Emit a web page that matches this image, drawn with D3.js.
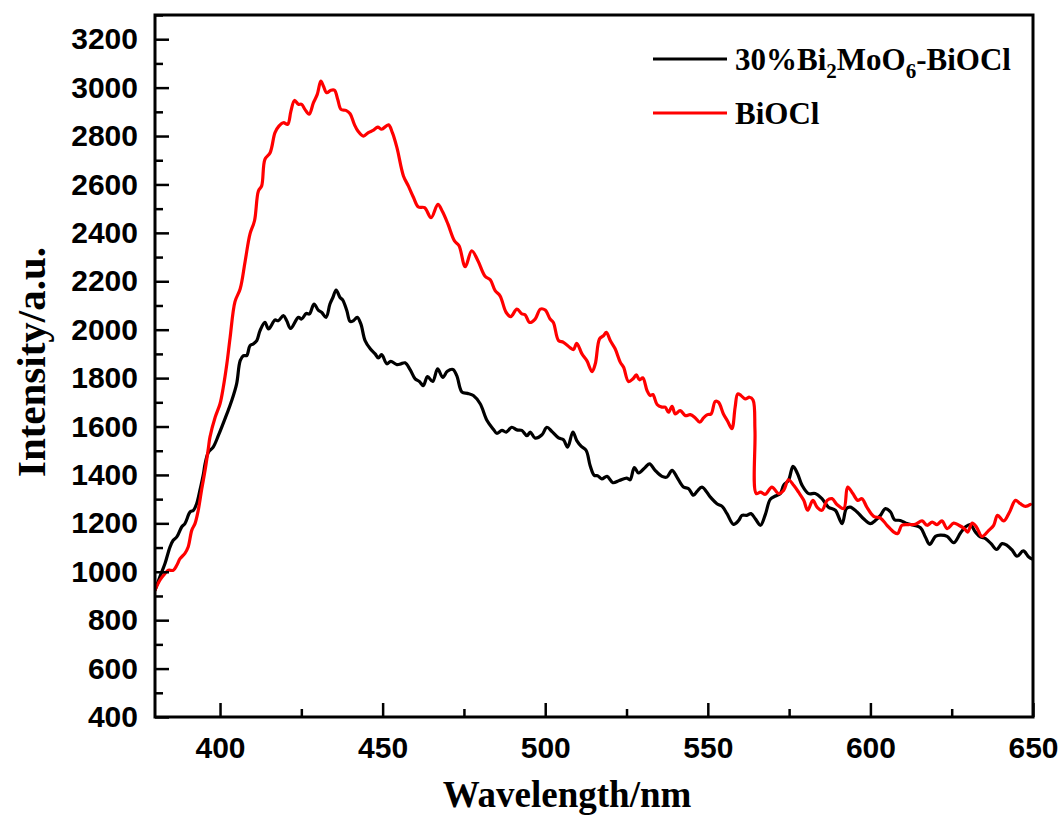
<!DOCTYPE html>
<html>
<head>
<meta charset="utf-8">
<script src="https://cdn.jsdelivr.net/npm/d3@7"></script>
<style>
  html, body { margin: 0; padding: 0; background: #fff; }
  svg { display: block; }
</style>
</head>
<body>
<svg id="chart" width="1064" height="823"></svg>
<script>
// ---------------- DATA ----------------
// 30%Bi2MoO6-BiOCl (black)
const blackWavelength = [380,381.5,383.1,384.6,385.6,386.7,388.2,389.2,390.8,391.8,392.8,393.8,394.9,395.4,396.4,397.9,399.5,402.1,403.6,405.1,406.2,407.2,408.2,409.2,410.2,411.3,412.3,413.8,414.9,416.9,417.9,419.5,420.5,421.7,424.1,425.1,426.5,427.5,428.9,430.2,431.3,432.6,433.8,434.7,435.7,436.9,437.7,439.0,440.0,441.0,442.2,443.3,444.6,446.2,447.7,448.7,449.7,451.3,452.5,454.4,455.6,456.9,458.5,460.0,461.3,462.5,463.8,465.4,466.9,468.5,469.9,471.6,472.8,474.4,476.1,477.9,480.0,482.1,484.1,485.1,486.7,488.0,489.7,491.3,492.8,494.4,495.4,496.9,499.0,500.5,502.1,504.1,505.6,506.9,508.5,509.7,511.1,512.6,513.8,515.1,516.1,517.4,519.0,520.8,522.8,525.1,526.1,527.4,528.7,530.8,532.1,533.8,535.9,537.4,539.0,540.5,542.5,544.1,545.6,546.7,548.2,550.8,552.8,554.4,555.9,557.9,559.5,560.5,562.0,563.3,564.6,566.2,567.7,569.2,570.8,572.3,573.3,574.8,576.2,577.6,579.0,581.0,583.0,585.1,587.1,589.2,591.3,592.6,593.8,595.9,597.9,600.0,601.5,603.1,604.6,606.2,607.4,609.2,611.3,613.3,615.4,616.9,618.2,620.0,621.5,623.6,625.6,627.7,629.2,630.7,632.3,633.8,635.4,637.1,638.8,640.5,642.0,643.6,645.1,647.0,648.7,649.8];
const blackIntensity = [924,979,1035,1102,1130,1144,1185,1199,1247,1254,1281,1336,1405,1446,1493,1515,1563,1652,1707,1776,1872,1893,1893,1934,1941,1955,1996,2030,2003,2040,2037,2058,2037,2005,2051,2044,2067,2065,2106,2081,2071,2051,2106,2133,2164,2133,2123,2078,2034,2037,2051,2024,1955,1921,1900,1883,1897,1859,1869,1856,1859,1863,1834,1797,1786,1769,1806,1786,1838,1803,1828,1836,1810,1742,1737,1728,1694,1625,1588,1572,1584,1577,1597,1586,1584,1562,1577,1552,1566,1597,1579,1553,1545,1515,1577,1542,1518,1501,1439,1398,1397,1384,1394,1368,1377,1387,1380,1430,1408,1432,1446,1419,1394,1391,1419,1391,1350,1343,1316,1332,1350,1308,1281,1270,1240,1196,1212,1233,1233,1240,1219,1192,1237,1299,1313,1323,1357,1377,1435,1405,1357,1323,1323,1302,1267,1254,1199,1261,1267,1247,1219,1199,1212,1233,1261,1247,1215,1212,1199,1192,1182,1144,1113,1146,1151,1146,1120,1160,1185,1195,1164,1144,1137,1116,1092,1116,1109,1089,1064,1086,1061,1052];

// BiOCl (red)
const redWavelength = [380,381.5,383.1,384.1,385.6,386.7,387.7,389.2,390.2,391.3,392.3,393.3,394.4,395.4,396.4,396.9,398.5,400.0,401.0,402.1,403.1,404.6,406.2,407.7,409.2,410.6,411.8,412.8,413.8,415.4,416.9,418.1,419.5,420.8,421.8,422.9,424.1,425.1,426.1,427.4,428.7,429.9,431.0,431.8,432.8,434.1,435.2,436.2,437.2,438.7,440.0,441.3,442.4,444.1,445.6,447.2,448.5,449.7,451.8,453.0,454.4,456.4,457.9,459.5,461.0,462.9,464.9,467.0,468.4,470.1,472.1,473.5,475.4,477.4,479.3,481.5,483.1,484.6,486.1,488.0,489.4,491.3,492.8,493.8,495.2,496.9,498.5,500.0,501.5,502.5,504.1,505.6,507.7,508.7,509.7,511.3,512.8,514.4,515.4,516.7,517.9,518.8,520.0,521.5,523.1,524.1,525.6,527.0,528.0,529.0,530.0,531.3,532.3,533.1,534.4,535.9,536.9,537.9,539.0,540.0,541.5,543.1,544.6,546.1,547.5,548.7,549.9,551.0,552.3,553.3,554.8,556.1,557.4,558.4,559.2,560.2,561.5,562.8,563.9,564.5,564.9,566.2,567.7,569.7,571.8,573.3,574.8,576.4,577.9,579.5,580.7,582.3,583.6,585.1,586.7,588.2,589.7,591.8,593.0,594.6,596.1,597.4,598.9,601.0,603.1,605.1,607.2,608.4,609.7,611.8,613.8,615.9,617.4,619.0,620.5,622.0,623.6,625.6,627.2,628.9,629.9,631.3,632.6,634.3,636.4,637.9,639.1,641.0,642.8,644.6,646.1,647.7,649.2];
const redIntensity = [924,965,993,1006,1006,1027,1054,1076,1102,1171,1199,1254,1344,1419,1509,1556,1638,1694,1762,1859,1968,2116,2169,2281,2395,2450,2573,2594,2704,2731,2814,2841,2855,2848,2903,2947,2931,2931,2910,2890,2937,2972,3027,3006,2979,2989,2989,2951,2910,2906,2892,2848,2821,2800,2814,2824,2837,2828,2846,2814,2752,2635,2594,2546,2507,2504,2463,2518,2488,2436,2367,2347,2260,2326,2285,2221,2206,2161,2140,2071,2054,2085,2065,2062,2030,2044,2085,2081,2044,2030,1955,1948,1925,1918,1944,1900,1872,1827,1859,1962,1975,1989,1955,1921,1865,1845,1786,1797,1813,1793,1801,1749,1728,1732,1691,1680,1680,1659,1683,1652,1666,1645,1649,1636,1618,1636,1649,1652,1704,1700,1652,1622,1591,1680,1735,1728,1714,1721,1710,1584,1323,1329,1320,1350,1323,1336,1380,1357,1329,1295,1254,1295,1267,1254,1295,1302,1278,1261,1350,1323,1295,1302,1267,1229,1222,1192,1164,1158,1192,1195,1196,1210,1192,1205,1195,1210,1178,1201,1192,1178,1164,1201,1185,1146,1171,1192,1233,1210,1247,1295,1281,1270,1278];

const seriesNames = ["30%Bi2MoO6-BiOCl", "BiOCl"];
const seriesColors = ["#000000", "#ff0000"];

const xDomain = [380, 650];
const yDomain = [400, 3300];
const xMajorTicks = [400, 450, 500, 550, 600, 650];
const xMinorTicks = [425, 475, 525, 575, 625];
const yMajorTicks = [400, 600, 800, 1000, 1200, 1400, 1600, 1800, 2000, 2200, 2400, 2600, 2800, 3000, 3200];
const yMinorTicks = [500, 700, 900, 1100, 1300, 1500, 1700, 1900, 2100, 2300, 2500, 2700, 2900, 3100, 3300];

const xTitle = "Wavelength/nm";
const yTitle = "Intensity/a.u.";

// ---------------- LAYOUT ----------------
const plot = { left: 155, right: 1033, top: 15, bottom: 717 };
const svg = d3.select("#chart");

const x = d3.scaleLinear().domain(xDomain).range([plot.left, plot.right]);
const y = d3.scaleLinear().domain(yDomain).range([plot.bottom, plot.top]);

const sansBold = "'Liberation Sans', Arial, sans-serif";
const serif = "'Liberation Serif', 'Times New Roman', serif";

// curves
const line = d3.line().x(d => x(d[0])).y(d => y(d[1])).curve(d3.curveCatmullRom.alpha(0.5));
const blackData = blackWavelength.map((w, i) => [w, blackIntensity[i]]);
const redData = redWavelength.map((w, i) => [w, redIntensity[i]]);

svg.append("defs").append("clipPath").attr("id", "clip")
  .append("rect").attr("x", plot.left).attr("y", plot.top)
  .attr("width", plot.right - plot.left).attr("height", plot.bottom - plot.top);

const g = svg.append("g").attr("clip-path", "url(#clip)");
g.append("path").datum(blackData).attr("d", line)
  .attr("fill", "none").attr("stroke", seriesColors[0]).attr("stroke-width", 3.2)
  .attr("stroke-linejoin", "round").attr("stroke-linecap", "round");
g.append("path").datum(redData).attr("d", line)
  .attr("fill", "none").attr("stroke", seriesColors[1]).attr("stroke-width", 3.2)
  .attr("stroke-linejoin", "round").attr("stroke-linecap", "round");

// axes
function styleAxis(sel) {
  sel.select(".domain").remove();
  sel.selectAll(".tick line").attr("stroke", "#000").attr("stroke-width", 2.5);
  sel.selectAll(".tick text").attr("fill", "#000")
    .attr("font-family", sansBold).attr("font-weight", "bold").attr("font-size", 30);
}

svg.append("g").attr("transform", `translate(0,${plot.bottom})`)
  .call(d3.axisBottom(x).tickValues(xMinorTicks).tickSize(-8).tickFormat(""))
  .call(styleAxis);
svg.append("g").attr("transform", `translate(0,${plot.bottom})`)
  .call(d3.axisBottom(x).tickValues(xMajorTicks).tickSize(-14).tickPadding(20).tickFormat(d3.format("d")))
  .call(styleAxis);

svg.append("g").attr("transform", `translate(${plot.left},0)`)
  .call(d3.axisLeft(y).tickValues(yMinorTicks).tickSize(-8).tickFormat(""))
  .call(styleAxis);
svg.append("g").attr("transform", `translate(${plot.left},0)`)
  .call(d3.axisLeft(y).tickValues(yMajorTicks).tickSize(-14).tickPadding(17).tickFormat(d3.format("d")))
  .call(styleAxis);

// frame
svg.append("rect")
  .attr("x", plot.left).attr("y", plot.top)
  .attr("width", plot.right - plot.left).attr("height", plot.bottom - plot.top)
  .attr("fill", "none").attr("stroke", "#000").attr("stroke-width", 3);

// axis titles
svg.append("text")
  .attr("x", 567).attr("y", 807)
  .attr("text-anchor", "middle")
  .attr("font-family", serif).attr("font-weight", "bold").attr("font-size", 37)
  .attr("fill", "#000")
  .text(xTitle);

svg.append("text")
  .attr("transform", "translate(45,362) rotate(-90)")
  .attr("text-anchor", "middle")
  .attr("font-family", serif).attr("font-weight", "bold").attr("font-size", 41)
  .attr("fill", "#000")
  .text(yTitle);

// legend
const legend = svg.append("g");
const legendRows = [
  { y: 59, parts: [["30%Bi", 0], ["2", 1], ["MoO", 0], ["6", 1], ["-BiOCl", 0]] },
  { y: 113, parts: [["BiOCl", 0]] }
];
legendRows.forEach((row, i) => {
  legend.append("line")
    .attr("x1", 653).attr("x2", 727).attr("y1", row.y).attr("y2", row.y)
    .attr("stroke", seriesColors[i]).attr("stroke-width", 3);
  const t = legend.append("text")
    .attr("x", 735).attr("y", row.y + 11)
    .attr("font-family", serif).attr("font-weight", "bold").attr("font-size", 31)
    .attr("fill", "#000");
  let sub = false;
  row.parts.forEach(([s, isSub]) => {
    const ts = t.append("tspan").text(s);
    if (isSub && !sub) { ts.attr("dy", 8).attr("font-size", 21); sub = true; }
    else if (!isSub && sub) { ts.attr("dy", -8); sub = false; }
    else if (isSub) { ts.attr("font-size", 21); }
  });
});
</script>
</body>
</html>
